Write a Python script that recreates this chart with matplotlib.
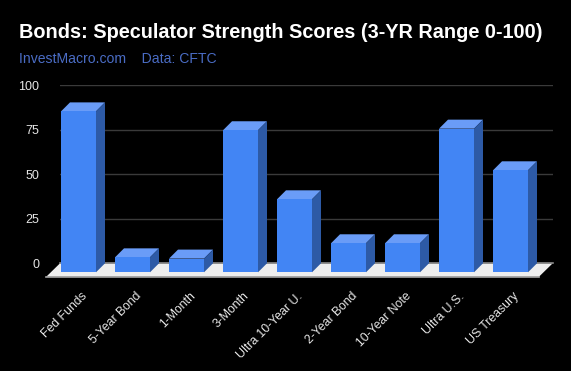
import matplotlib
matplotlib.use('Agg')
import matplotlib.pyplot as plt
from matplotlib.patches import Polygon
from matplotlib.transforms import ScaledTranslation

categories = ['Fed Funds', '5-Year Bond', '1-Month', '3-Month', 'Ultra 10-Year U.',
              '2-Year Bond', '10-Year Note', 'Ultra U.S.', 'US Treasury']
scores = [90.4, 8.4, 7.7, 79.8, 41.0, 16.3, 16.3, 80.7, 57.3]
y_ticks = [0, 25, 50, 75, 100]

W, H = 571, 371
PX_Y = 178 / 100     # pixels per score unit
PX_X = 54            # pixels per category
DEPTH = 9            # depth of the 3D effect, pixels
BAR_W = 35 / PX_X

fig = plt.figure(figsize=(W / 100, H / 100), dpi=100, facecolor='black')
plt.rcParams['font.family'] = ['Liberation Sans', 'DejaVu Sans']

# the axes is the back wall of the chart
ax = fig.add_axes([60 / W, 1 - 263.3 / H, 492.7 / W, 178 / H], facecolor='black')
ax.set_xlim((60 - 78.5) / PX_X, (552.7 - 78.5) / PX_X)
ax.set_ylim(0, 100)
for s in ax.spines.values():
    s.set_visible(False)

dx = DEPTH / PX_X
dy = DEPTH / PX_Y
left, right = ax.get_xlim()

ax.set_yticks(y_ticks)
ax.set_yticklabels([str(t) for t in y_ticks], color='#e6e6e6', fontsize=9.0)
ax.tick_params(axis='y', length=0, pad=15)
ax.grid(axis='y', color='#3a3a3a', linewidth=1)
ax.set_axisbelow(True)

# floor
floor_dy = 13.4 / PX_Y
floor_dx = 13.7 / PX_X
ax.add_patch(Polygon([(left, 0), (right, 0), (right - floor_dx, -floor_dy), (left - floor_dx, -floor_dy)],
                     closed=True, facecolor='#eeeeee', edgecolor='none', clip_on=False, zorder=2))
ax.plot([left, right], [0, 0], color='#8a8a8a', linewidth=1.2, clip_on=False, zorder=2.1)
ax.plot([left - floor_dx, right - floor_dx], [-floor_dy, -floor_dy], color='#a8a8a8',
        linewidth=1.2, clip_on=False, zorder=2.1)

# bars: front face through ax.bar, top and side faces follow it
x = list(range(len(scores)))
ax.bar(x, scores, width=BAR_W, bottom=-dy, color='#4285f4', clip_on=False, zorder=4)
for i, v in zip(x, scores):
    x0 = i - BAR_W / 2
    x1 = i + BAR_W / 2
    y0 = -dy
    y1 = v - dy
    ax.add_patch(Polygon([(x0, y1), (x1, y1), (x1 + dx, y1 + dy), (x0 + dx, y1 + dy)], closed=True,
                         facecolor='#6a9cf7', edgecolor='none', clip_on=False, zorder=3))
    ax.add_patch(Polygon([(x1, y0), (x1 + dx, y0 + dy), (x1 + dx, y1 + dy), (x1, y1)], closed=True,
                         facecolor='#2d5aa6', edgecolor='none', clip_on=False, zorder=3))

ax.set_xticks(x)
ax.set_xticklabels(categories, rotation=45, ha='right', va='top', rotation_mode='anchor',
                   color='#e6e6e6', fontsize=8.8)
ax.tick_params(axis='x', length=0, pad=0)
shift = ScaledTranslation(2.5 / 100, -27 / 100, fig.dpi_scale_trans)
for lab in ax.get_xticklabels():
    lab.set_transform(lab.get_transform() + shift)

fig.text(19 / W, 1 - 38 / H, 'Bonds: Speculator Strength Scores (3-YR Range 0-100)',
         color='white', fontsize=14.3, fontweight='bold')
fig.text(19 / W, 1 - 63 / H, 'InvestMacro.com    Data: CFTC', color='#4a6cc4', fontsize=10.1)

fig.savefig('out.png', dpi=100, facecolor='black')
